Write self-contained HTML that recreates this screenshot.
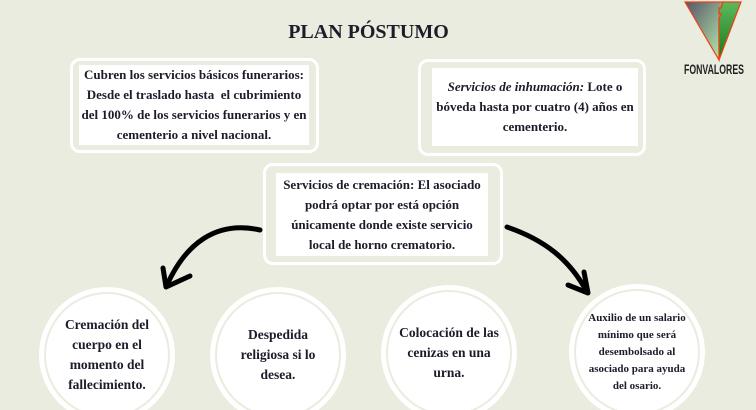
<!DOCTYPE html>
<html><head><meta charset="utf-8"><style>
*{margin:0;padding:0;box-sizing:border-box}
html,body{width:756px;height:410px;overflow:hidden}
body{background:#e9ecdf;position:relative;font-family:"Liberation Serif",serif;font-weight:bold;color:#1c1c2a}
.a{position:absolute}
.ob{position:absolute;border:3px solid #fff;border-radius:10px}
.in{position:absolute;background:#fff;display:flex;align-items:center;justify-content:center;text-align:center;font-size:13px;line-height:20px;white-space:nowrap}
.c{position:absolute;width:136px;height:136px;border-radius:50%;background:#fff;}
.c .r{position:absolute;left:5px;top:5px;width:126px;height:126px;border-radius:50%;border:2px solid #e9ecdf;display:flex;align-items:center;justify-content:center;text-align:center;font-size:13.5px;line-height:20px}
</style></head><body>
<div class="a" style="left:0;width:737px;top:21px;text-align:center;font-size:20px">PLAN PÓSTUMO</div>

<svg class="a" style="left:680px;top:0" width="70" height="76">
<defs><linearGradient id="g1" x1="0" y1="0" x2="1" y2="1"><stop offset="0" stop-color="#556"/><stop offset="1" stop-color="#b9eeb0"/></linearGradient>
<linearGradient id="g2" x1="0" y1="0" x2="0" y2="1"><stop offset="0" stop-color="#5cb85c"/><stop offset="1" stop-color="#187a18"/></linearGradient></defs>
<polygon points="5,2 43,2 41,8 39,8 39,14 41,14 39,18 39,60" fill="url(#g1)" stroke="#f04010" stroke-width="1.2"/>
<polygon points="43,2 61,2 39,60 39,18 41,14 39,14 39,8 41,8" fill="url(#g2)" stroke="#f04010" stroke-width="1.2"/>
<text x="34" y="74" text-anchor="middle" font-family="Liberation Sans Narrow, Liberation Sans, sans-serif" font-size="14" font-weight="bold" fill="#222" textLength="60" lengthAdjust="spacingAndGlyphs">FONVALORES</text>
</svg>

<div class="ob" style="left:70px;top:58px;width:249px;height:95px"></div>
<div class="in" style="left:79px;top:65px;width:230px;height:80px">Cubren los servicios básicos funerarios:<br>Desde el traslado hasta &nbsp;el cubrimiento<br>del 100% de los servicios funerarios y en<br>cementerio a nivel nacional.</div>

<div class="ob" style="left:418px;top:59px;width:228px;height:97px"></div>
<div class="in" style="left:432px;top:68px;width:206px;height:78px"><span><i>Servicios de inhumación:</i> Lote o<br>bóveda hasta por cuatro (4) años en<br>cementerio.</span></div>

<div class="ob" style="left:263px;top:163px;width:240px;height:102px"></div>
<div class="in" style="left:276px;top:173px;width:212px;height:83px">Servicios de cremación: El asociado<br>podrá optar por está opción<br>únicamente donde existe servicio<br>local de horno crematorio.</div>

<svg class="a" style="left:0;top:0" width="756" height="410" fill="none" stroke="#000" stroke-linecap="round" stroke-linejoin="round">
<path d="M260,230 C215,220 185,245 167,285" stroke-width="5"/>
<path d="M163,268 L166,287 L190,276" stroke-width="5"/>
<path d="M507,227 C545,240 570,260 587,292" stroke-width="5"/>
<path d="M568,285 L588,293 L584,272" stroke-width="5"/>
</svg>

<div class="c" style="left:39px;top:287px"><div class="r">Cremación del<br>cuerpo en el<br>momento del<br>fallecimiento.</div></div>
<div class="c" style="left:210px;top:287px"><div class="r">Despedida<br>religiosa si lo<br>desea.</div></div>
<div class="c" style="left:381px;top:285px"><div class="r">Colocación de las<br>cenizas en una<br>urna.</div></div>
<div class="c" style="left:569px;top:284px"><div class="r" style="font-size:11px;line-height:17px">Auxilio de un salario<br>mínimo que será<br>desembolsado al<br>asociado para ayuda<br>del osario.</div></div>
</body></html>
